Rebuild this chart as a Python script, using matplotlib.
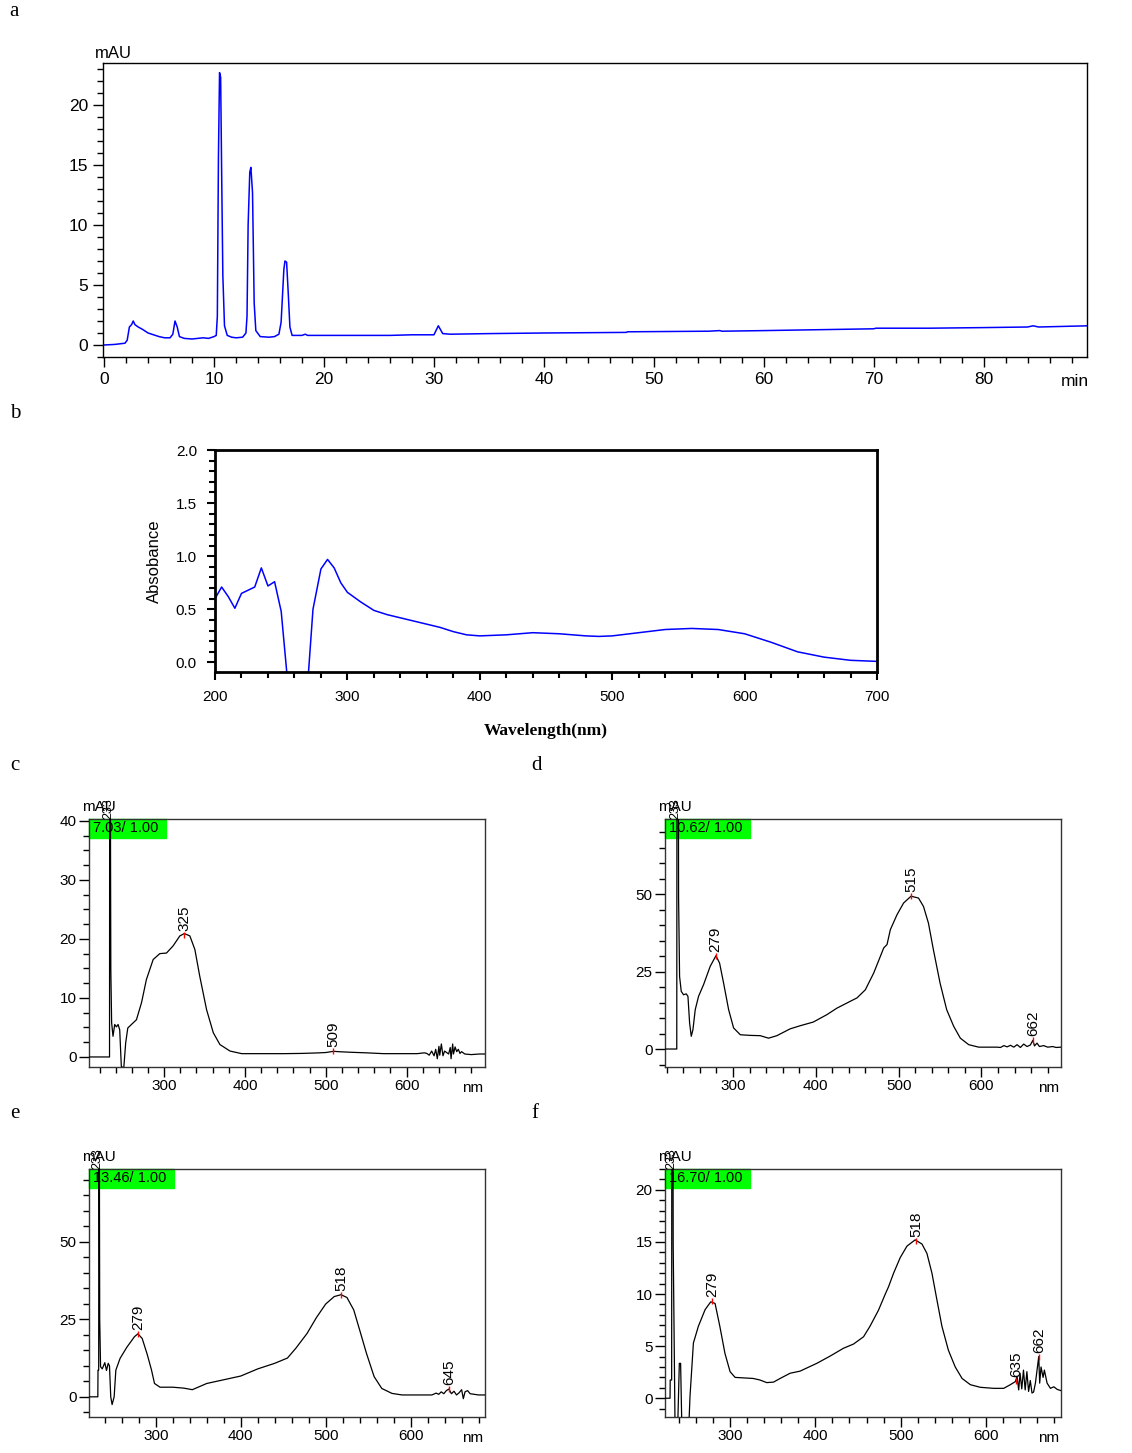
import matplotlib
matplotlib.use("Agg")
import matplotlib.pyplot as plt
from matplotlib.patches import Rectangle
from matplotlib.ticker import MultipleLocator

# ---- data ----
# a) chromatogram (min, mAU)
chrom_t = [0.0, 1.0, 1.9, 2.1, 2.3, 2.5, 2.65, 2.8, 3.1, 3.5, 4.0, 4.5, 5.0, 5.5, 6.0, 6.25, 6.45, 6.65, 6.85,
           7.3, 8.0, 9.0, 9.5, 10.0, 10.2, 10.3, 10.4, 10.5, 10.6, 10.7, 10.8, 10.95, 11.2, 11.6, 12.0, 12.6,
           12.9, 13.0, 13.1, 13.25, 13.35, 13.5, 13.65, 13.8, 14.2, 15.0, 15.5, 15.9, 16.1, 16.35, 16.45,
           16.6, 16.75, 16.9, 17.1, 18.0, 18.3, 18.5, 23.0, 26.0, 28.0, 30.0, 30.4, 30.8, 31.5, 35.0, 40.0,
           47.5, 47.6, 55.0, 56.0, 56.2, 60.0, 70.0, 70.2, 75.0, 80.0, 84.0, 84.5, 85.0, 89.5]
chrom_y = [0.0, 0.05, 0.15, 0.4, 1.5, 1.7, 2.0, 1.7, 1.5, 1.3, 1.0, 0.85, 0.7, 0.6, 0.6, 0.9, 2.0, 1.5, 0.7,
           0.55, 0.5, 0.6, 0.55, 0.7, 0.8, 2.4, 15.7, 22.7, 22.3, 13.7, 5.8, 1.6, 0.8, 0.65, 0.6, 0.65,
           1.0, 2.4, 10.0, 14.4, 14.8, 12.7, 3.5, 1.2, 0.7, 0.65, 0.7, 0.9, 1.9, 6.3, 7.0,
           6.9, 4.3, 1.5, 0.8, 0.8, 0.9, 0.8, 0.8, 0.8, 0.85, 0.85, 1.6, 0.95, 0.9, 0.95, 1.0,
           1.05, 1.1, 1.15, 1.2, 1.15, 1.2, 1.35, 1.4, 1.4, 1.45, 1.5, 1.6, 1.5, 1.6]

# b) absorbance spectrum
abs_wl = [200, 205, 210, 215, 220, 225, 230, 235, 240, 245, 250, 255, 262, 270, 274, 280, 285, 290, 295, 300,
          310, 320, 330, 350, 370, 380, 390, 400, 420, 440, 460, 480, 490, 500, 520, 540, 560, 580,
          600, 620, 640, 660, 680, 700]
abs_val = [0.6, 0.71, 0.62, 0.51, 0.65, 0.68, 0.71, 0.89, 0.72, 0.76, 0.48, -0.2, -0.5, -0.2, 0.5, 0.88, 0.97,
           0.89, 0.75, 0.66, 0.57, 0.49, 0.45, 0.39, 0.33, 0.29, 0.26, 0.25, 0.26, 0.28, 0.27, 0.25, 0.245,
           0.25, 0.28, 0.31, 0.32, 0.31, 0.27, 0.19, 0.1, 0.05, 0.02, 0.01]

# c) UV-vis at 7.03 min
c_wl = [207, 232.4, 232.6, 233.2, 234, 235, 236.7, 238.8, 240.9, 243, 245, 247, 250, 252.4, 255, 259.5,
        265.7, 272, 278, 286.4, 294.6, 302.9, 311, 319.4, 325, 331.8, 338, 344, 352.5, 360.8, 369,
        381.5, 396, 447.6, 470, 489, 500, 509.7, 515, 530, 550, 571.7, 613, 622, 625, 628, 631, 634, 636,
        638, 640, 641, 643, 645, 647, 650, 652, 654, 655, 657, 658, 660, 662, 664, 666, 668, 672, 680, 690, 697]
c_val = [0.0, 0.0, 60, 60, 14.8, 5.8, 3.5, 5.5, 5.1, 5.5, 4.6, -1.6, -1.9, 2.4, 4.9, 5.5,
         6.3, 9.2, 13.1, 16.5, 17.5, 17.6, 18.8, 20.5, 20.9, 20.5, 18.2, 13.7, 8.0, 4.1, 2.1,
         1.0, 0.56, 0.56, 0.6, 0.68, 0.75, 0.96, 0.9, 0.8, 0.7, 0.56, 0.56, 0.7, 0.6, 0.3, 1.0, 0.2, 1.3,
         -0.3, 1.8, 0.3, 2.2, 0.2, 1.0, 0.7, 0.5, 1.6, -0.3, 2.2, 0.5, 1.7, 0.9, 1.3, 0.6, 0.9, 0.5, 0.4, 0.5, 0.5]

# d) UV-vis at 10.62 min
d_wl = [218, 232.2, 232.4, 234.2, 234.4, 235.6, 237.6, 240.4, 243.6, 245.7, 247.7, 249.7, 251.7, 254.5,
        258.5, 264.6, 272.6, 279.5, 283.9, 288.7, 294.8, 300.8, 308.9, 320.9, 333, 343, 353, 369, 381,
        397, 413.5, 425.6, 441.7, 449.8, 459.8, 469.9, 482, 486, 490, 498, 506, 515, 524, 530, 536, 542,
        550, 558, 566.5, 574.5, 584.6, 596.7, 618.8, 623, 627, 631, 635, 639, 643, 647, 651, 655, 659,
        662, 664, 667, 670, 675, 680, 686, 690, 696]
d_val = [0.0, 0.0, 80, 80, 48.7, 23.4, 18.6, 17.5, 17.8, 17.0, 8.4, 4.1, 6.2, 12.7,
         17.0, 20.8, 26.7, 30.1, 27.7, 21.3, 12.7, 6.8, 4.6, 4.4, 4.3, 3.5, 4.3, 6.5, 7.5,
         8.7, 11.1, 13.2, 15.4, 16.5, 19.1, 24.5, 32.6, 33.7, 38.5, 43.3, 47.1, 49.3, 48.7, 46.0, 40.6, 32.0,
         21.3, 12.7, 7.3, 3.5, 1.4, 0.6, 0.6, 0.5, 1.1, 0.7, 1.2, 0.6, 1.4, 0.5, 1.6, 0.8, 1.3,
         2.8, 1.0, 1.9, 0.8, 1.1, 0.6, 0.8, 0.5, 0.6]

# e) UV-vis at 13.46 min
e_wl = [221.4, 231.8, 232, 232.8, 233, 233.6, 234, 235, 237, 240, 242, 244, 245.5, 247, 248.6, 251, 253,
        258, 266, 275, 279, 284, 290, 295, 298.5, 305, 320, 333, 343, 360, 380, 400, 420, 440, 455, 465,
        478, 489, 500, 510, 518, 525, 533, 540, 548, 557, 566, 578, 590, 600, 625, 630, 633, 636, 639,
        642, 645, 648, 651, 654, 657, 660, 662, 664, 667, 670, 675, 680, 687.5]
e_val = [0.0, 0.0, 8.6, 8.6, 80, 80, 25.3, 9.7, 9.0, 11.0, 8.5, 10.8, 10.0, 0.0, -2.5, 0.0, 8.6,
         12.4, 16.0, 19.4, 20.3, 18.8, 13.6, 8.6, 4.3, 3.1, 3.1, 2.8, 2.3, 4.3, 5.5, 6.7, 9.0, 10.8, 12.5, 15.7,
         20.4, 25.5, 29.9, 32.3, 32.9, 32.0, 28.0, 21.5, 14.0, 6.5, 2.7, 1.1, 0.6, 0.6, 0.6, 1.2, 0.8, 1.6, 1.0,
         2.0, 2.5, 1.0, 1.8, 0.6, 1.3, 2.3, -0.6, 1.6, 2.0, 1.0, 0.8, 0.6, 0.6]

# f) UV-vis at 16.70 min
f_wl = [223.7, 229.6, 229.8, 231.5, 231.7, 233.0, 233.3, 235.5, 238.5, 240.5, 242.0, 243.5, 245.5, 251.5,
        253, 257, 262.8, 270.7, 277.3, 282.4, 288, 294, 300, 305.9, 327, 335, 343, 351, 358.7, 370.4, 382,
        401.7, 417.4, 433, 444.7, 456.5, 464, 474, 482, 485.8, 491.7, 499.5, 507.4, 517, 525, 530.8,
        536.7, 542.6, 548.4, 556, 564, 572, 581.7, 593.4, 609, 620.8, 628.6, 634.5, 636.5, 638.4, 640,
        642, 644, 646, 648, 650, 652, 654, 655.9, 658, 661.9, 663, 664.6, 667, 668.5, 671.7, 675.6,
        679.6, 683.5, 688]
f_val = [0.0, 0.0, 1.75, 1.75, 30, 30, 14.8, -3.0, -3.0, 3.35, 3.35, -3.0, -3.0, -3.0,
         0.16, 5.3, 6.9, 8.5, 9.25, 9.1, 6.9, 4.3, 2.55, 2.0, 1.9, 1.75, 1.5, 1.55, 1.9, 2.4, 2.6,
         3.35, 4.05, 4.8, 5.2, 5.9, 6.9, 8.45, 10.0, 10.7, 12.0, 13.5, 14.6, 15.2, 14.8, 13.9,
         12.0, 9.4, 6.9, 4.6, 3.0, 1.9, 1.3, 1.05, 0.95, 0.95, 1.3, 1.6, 2.07, 0.8, 2.4,
         0.9, 2.7, 0.8, 2.55, 0.65, 1.7, 0.5, 0.6, 1.45, 4.0, 1.45, 3.0, 2.0, 2.7, 1.45, 0.95,
         1.1, 0.85, 0.73]

spec_titles = ["7.03/ 1.00", "10.62/ 1.00", "13.46/ 1.00", "16.70/ 1.00"]
peaks_c = [(325, 20.6), (509, 1.0)]
peaks_d = [(279, 30.0), (515, 49.3), (662, 2.8)]
peaks_e = [(279, 20.3), (518, 32.9), (645, 2.5)]
peaks_f = [(279, 9.3), (518, 15.1), (635, 1.7), (662, 4.0)]

W, H = 1132, 1453
fig = plt.figure(figsize=(W / 100, H / 100), dpi=100)
SANS = ['Liberation Sans', 'DejaVu Sans']
SERIF = ['Liberation Serif', 'DejaVu Serif']


def box(l, t, r, b):
    return fig.add_axes([l / W, 1 - b / H, (r - l) / W, (b - t) / H])


def letter(x, y, s):
    fig.text(x / W, 1 - y / H, s, family=SERIF, fontsize=15, ha='center', va='center')


# ---- panel a ----
ax = box(103, 63, 1087, 357)
ax.plot(chrom_t, chrom_y, color='#0000ff', lw=1.1)
ax.set_xlim(-0.1, 89.4)
ax.set_ylim(-1.0, 23.5)
ax.set_xticks(range(0, 81, 10))
ax.xaxis.set_minor_locator(MultipleLocator(2))
ax.set_yticks(range(0, 21, 5))
ax.yaxis.set_minor_locator(MultipleLocator(1))
ax.tick_params(which='major', direction='out', length=7, width=1, labelsize=12.5)
ax.tick_params(which='minor', direction='out', length=4, width=1)
for lab in ax.get_xticklabels() + ax.get_yticklabels():
    lab.set_family(SANS)
for s in ax.spines.values():
    s.set_linewidth(1)
fig.text(95 / W, 1 - 53 / H, "mAU", family=SANS, fontsize=12, va='center', ha='left')
fig.text(1089 / W, 1 - 381 / H, "min", family=SANS, fontsize=12.5, va='center', ha='right')
letter(14, 12, "a")

# ---- panel b ----
ax = box(215, 450, 877, 672)
ax.plot(abs_wl, abs_val, color='#0000ff', lw=1.1)
ax.set_xlim(200, 700)
ax.set_ylim(-0.09, 2.0)
ax.set_xticks(range(200, 701, 100))
ax.xaxis.set_minor_locator(MultipleLocator(20))
ax.set_yticks([0.0, 0.5, 1.0, 1.5, 2.0])
ax.set_yticklabels(["0.0", "0.5", "1.0", "1.5", "2.0"])
ax.yaxis.set_minor_locator(MultipleLocator(0.1))
ax.tick_params(which='major', direction='out', length=6, width=1.5, labelsize=11, pad=7)
ax.tick_params(which='minor', direction='out', length=4, width=1.5)
for lab in ax.get_xticklabels() + ax.get_yticklabels():
    lab.set_family(SANS)
for s in ax.spines.values():
    s.set_linewidth(2)
ax.set_ylabel("Absobance", family=SANS, fontsize=12, labelpad=10)
fig.text(546 / W, 1 - 731 / H, "Wavelength(nm)", family=SERIF, fontsize=12.5,
         fontweight='bold', ha='center', va='center')
letter(15, 413, "b")

# ---- panels c-f ----
specs = [
    ((89, 819, 485, 1067), (207, 697), (-1.7, 40.3), 10, 2.5, c_wl, c_val, peaks_c, (15, 765), "c"),
    ((665, 819, 1061, 1067), (218, 696), (-5.8, 74.2), 25, 5, d_wl, d_val, peaks_d, (537, 765), "d"),
    ((89, 1169, 485, 1417), (221.4, 687.5), (-6.5, 73.4), 25, 5, e_wl, e_val, peaks_e, (15, 1113), "e"),
    ((665, 1169, 1061, 1417), (223.7, 688), (-1.8, 22), 5, 1, f_wl, f_val, peaks_f, (535, 1113), "f"),
]
for i, (rect, xl, yl, ymaj, ymin, wl, val, pk, lpos, lt) in enumerate(specs):
    l, t, r, b = rect
    ax = box(l, t, r, b)
    ax.add_patch(Rectangle((0, 1 - 19 / (b - t)), 85 / (r - l) if i else 77 / (r - l), 19 / (b - t),
                           transform=ax.transAxes, color='#00ff00', zorder=1, clip_on=False))
    ax.text(4 / (r - l), 1 - 9.5 / (b - t), spec_titles[i], transform=ax.transAxes, family=SANS,
            fontsize=10.5, va='center', ha='left', zorder=2)
    ax.plot(wl, val, color='black', lw=0.9, zorder=3)
    ax.set_xlim(*xl)
    ax.set_ylim(*yl)
    ax.set_xticks([300, 400, 500, 600])
    ax.xaxis.set_minor_locator(MultipleLocator(20))
    ax.yaxis.set_major_locator(MultipleLocator(ymaj))
    ax.yaxis.set_minor_locator(MultipleLocator(ymin))
    ax.tick_params(which='major', direction='out', length=7, width=1, labelsize=11, pad=2)
    ax.tick_params(which='minor', direction='out', length=4, width=1)
    for lab in ax.get_xticklabels() + ax.get_yticklabels():
        lab.set_family(SANS)
    for s in ax.spines.values():
        s.set_linewidth(1)
        s.set_color('#333333')
    for x, y in pk:
        ax.plot([x], [y], marker='|', color='red', ms=4, mew=1, zorder=4)
        ax.annotate(str(x), (x, y), xytext=(0, 4), textcoords='offset pixels', rotation=90,
                    ha='center', va='bottom', family=SANS, fontsize=11)
    ax.annotate("233", (233, yl[1]), xytext=(-2, 0), textcoords='offset pixels', rotation=90,
                ha='center', va='bottom', family=SANS, fontsize=9, annotation_clip=False)
    ax.text(-7 / (r - l), 1 + 12 / (b - t), "mAU", transform=ax.transAxes, family=SANS,
            fontsize=11, ha='left', va='center')
    ax.text(1 - 2 / (r - l), -21 / (b - t), "nm", transform=ax.transAxes, family=SANS,
            fontsize=11, ha='right', va='center')
    letter(lpos[0], lpos[1], lt)

fig.savefig("out.png", dpi=100)
